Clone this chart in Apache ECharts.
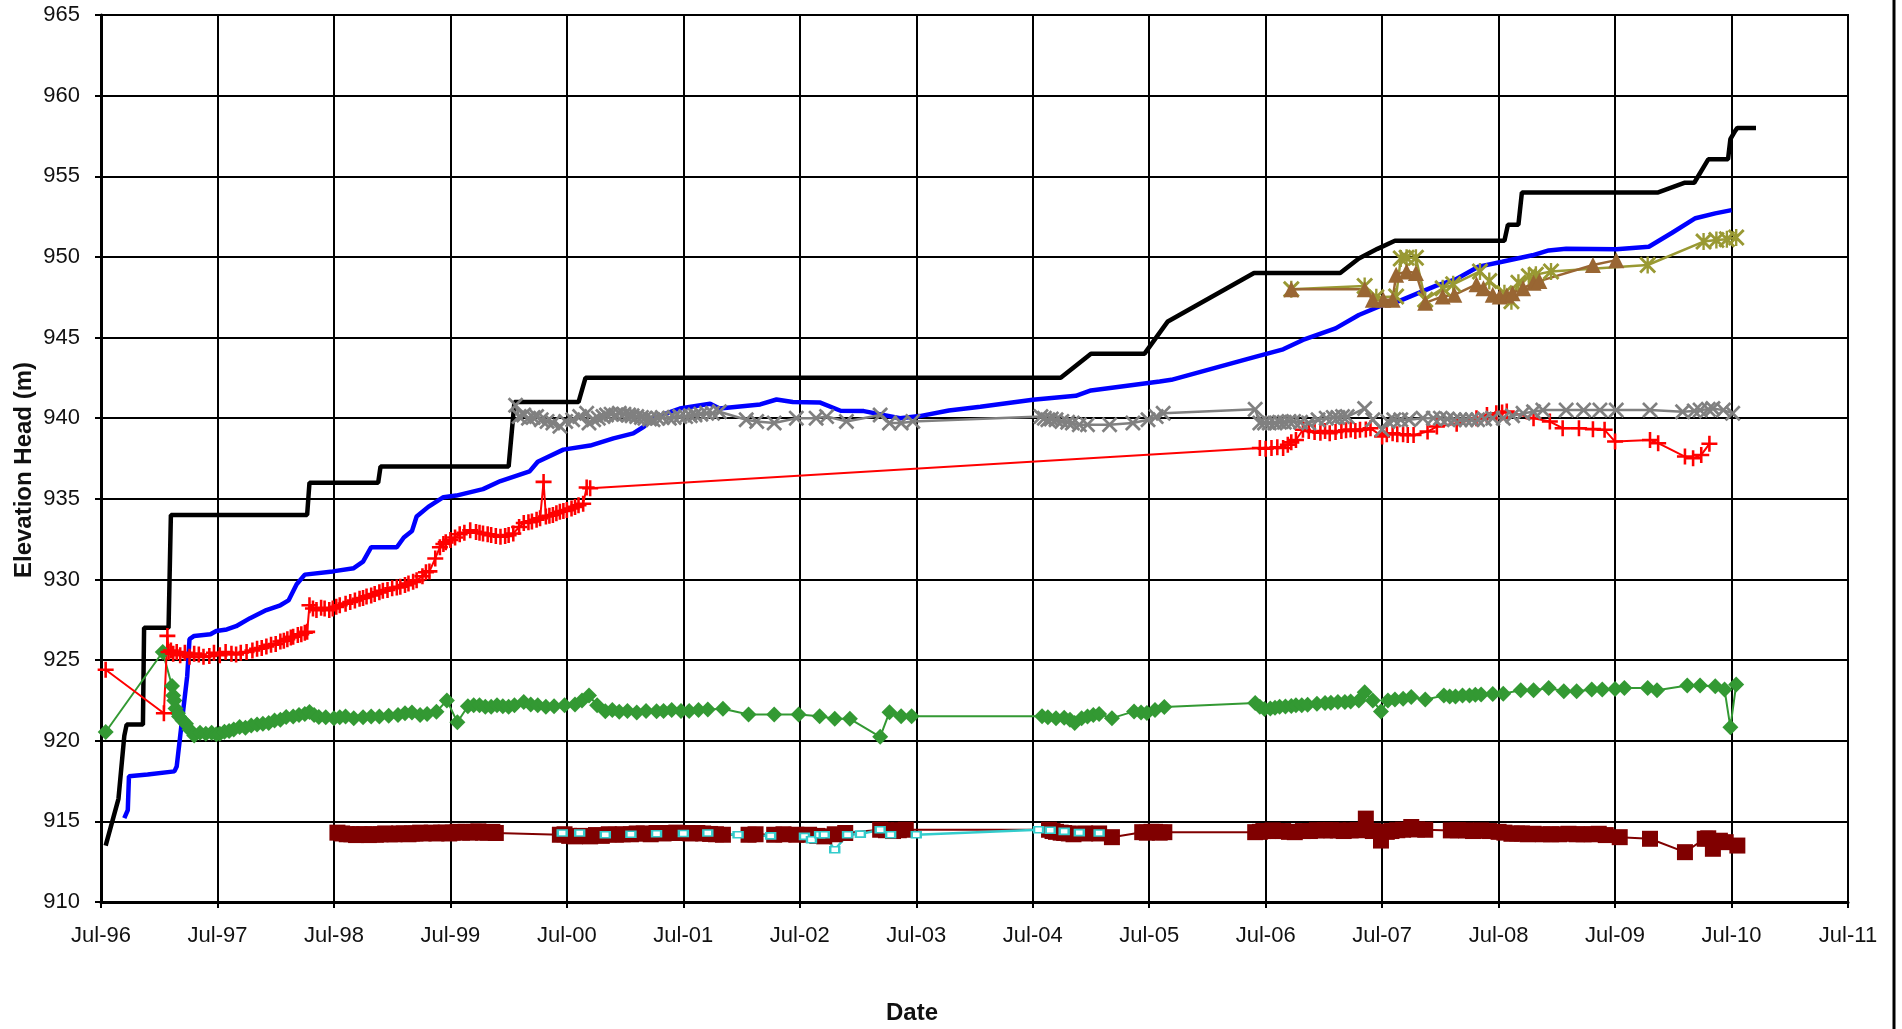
<!DOCTYPE html>
<html>
<head>
<meta charset="utf-8">
<title>Elevation Head</title>
<script src="https://cdn.jsdelivr.net/npm/echarts@6/dist/echarts.min.js"></script>
<style>
    html, body { margin: 0; padding: 0; background: #fff; }
    #headChart { width: 1902px; height: 1029px; }
</style>
</head>
<body>
<div id="headChart"></div>
<script>
// x axis tick labels (one per July, 1996 .. 2011)
var yearLabels = ['Jul-96', 'Jul-97', 'Jul-98', 'Jul-99', 'Jul-00', 'Jul-01', 'Jul-02', 'Jul-03',
    'Jul-04', 'Jul-05', 'Jul-06', 'Jul-07', 'Jul-08', 'Jul-09', 'Jul-10', 'Jul-11'];
var startYear = 1996.5;

// readings: [decimal year, elevation head (m)]
var blackHead = [[1996.54, 913.5], [1996.65, 916.4], [1996.70, 920.3], [1996.72, 921.0], [1996.86, 921.0], [1996.87, 927.0],
    [1997.08, 927.0], [1997.10, 934.0], [1998.27, 934.0], [1998.29, 936.0], [1998.88, 936.0], [1998.90, 937.0],
    [2000.0, 937.0], [2000.05, 941.0], [2000.60, 941.0], [2000.66, 942.5], [2004.74, 942.5], [2005.0, 944.0],
    [2005.46, 944.0], [2005.66, 946.0], [2006.40, 949.0], [2007.14, 949.0], [2007.30, 949.9], [2007.46, 950.5],
    [2007.61, 951.0], [2008.55, 951.0], [2008.58, 952.0], [2008.67, 952.0], [2008.70, 954.0], [2009.87, 954.0],
    [2010.10, 954.6], [2010.18, 954.6], [2010.30, 956.05], [2010.47, 956.05], [2010.49, 957.3], [2010.53, 957.8],
    [2010.55, 958.0], [2010.71, 958.0]];

var blueHead = [[1996.70, 915.2], [1996.73, 915.7], [1996.74, 917.8], [1996.90, 917.9], [1997.13, 918.1], [1997.15, 918.4],
    [1997.18, 920.3], [1997.24, 924.0], [1997.26, 926.3], [1997.30, 926.5], [1997.44, 926.6], [1997.49, 926.8],
    [1997.58, 926.9], [1997.66, 927.1], [1997.78, 927.6], [1997.92, 928.1], [1998.04, 928.4], [1998.11, 928.7],
    [1998.18, 929.7], [1998.25, 930.3], [1998.49, 930.5], [1998.67, 930.7], [1998.75, 931.1], [1998.82, 932.0],
    [1999.04, 932.0], [1999.10, 932.6], [1999.17, 933.0], [1999.21, 933.9], [1999.31, 934.5], [1999.44, 935.1],
    [1999.55, 935.2], [1999.78, 935.6], [1999.93, 936.1], [2000.18, 936.7], [2000.25, 937.3], [2000.47, 938.05],
    [2000.70, 938.3], [2000.90, 938.75], [2001.07, 939.06], [2001.16, 939.47], [2001.24, 940.0], [2001.47, 940.6],
    [2001.73, 940.9], [2001.81, 940.6], [2002.16, 940.85], [2002.30, 941.16], [2002.44, 941.0], [2002.67, 940.98],
    [2002.85, 940.46], [2003.05, 940.44], [2003.36, 940.0], [2003.53, 940.13], [2003.78, 940.48], [2004.05, 940.71],
    [2004.5, 941.14], [2004.87, 941.39], [2005.0, 941.72], [2005.59, 942.28], [2005.69, 942.38], [2006.41, 943.8],
    [2006.65, 944.27], [2006.82, 944.85], [2007.10, 945.57], [2007.30, 946.4], [2007.50, 947.0], [2007.66, 947.3],
    [2007.96, 948.2], [2008.13, 948.6], [2008.33, 949.4], [2008.53, 949.7], [2008.79, 950.1], [2008.93, 950.4],
    [2009.08, 950.5], [2009.51, 950.47], [2009.79, 950.63], [2009.99, 951.5], [2010.19, 952.4], [2010.36, 952.7],
    [2010.50, 952.9]];

var redHead = [[1996.54, 924.4], [1997.04, 921.7], [1997.07, 926.5], [1997.08, 925.5], [1997.10, 925.6], [1997.12, 925.4],
    [1997.15, 925.5], [1997.18, 925.3], [1997.22, 925.45], [1997.26, 925.2], [1997.30, 925.4], [1997.34, 925.35],
    [1997.38, 925.2], [1997.43, 925.25], [1997.47, 925.45], [1997.52, 925.3], [1997.57, 925.5], [1997.62, 925.4],
    [1997.66, 925.35], [1997.70, 925.45], [1997.75, 925.5], [1997.80, 925.6], [1997.84, 925.7], [1997.88, 925.75],
    [1997.92, 925.85], [1997.96, 925.95], [1998.0, 926.0], [1998.04, 926.15], [1998.07, 926.2], [1998.10, 926.3],
    [1998.13, 926.4], [1998.15, 926.45], [1998.19, 926.55], [1998.22, 926.6], [1998.25, 926.7], [1998.27, 926.75],
    [1998.29, 928.4], [1998.32, 928.2], [1998.35, 928.1], [1998.39, 928.25], [1998.42, 928.2], [1998.46, 928.1],
    [1998.49, 928.2], [1998.52, 928.3], [1998.55, 928.4], [1998.60, 928.5], [1998.64, 928.6], [1998.68, 928.7],
    [1998.72, 928.8], [1998.75, 928.85], [1998.78, 928.95], [1998.82, 929.0], [1998.85, 929.1], [1998.89, 929.2],
    [1998.92, 929.3], [1998.96, 929.35], [1999.0, 929.45], [1999.04, 929.5], [1999.07, 929.55], [1999.11, 929.65],
    [1999.14, 929.75], [1999.18, 929.85], [1999.21, 929.95], [1999.26, 930.2], [1999.29, 930.45], [1999.32, 930.5],
    [1999.37, 931.3], [1999.41, 932.0], [1999.44, 932.2], [1999.46, 932.3], [1999.50, 932.45], [1999.54, 932.6],
    [1999.58, 932.8], [1999.62, 932.9], [1999.67, 933.05], [1999.72, 932.95], [1999.75, 932.9], [1999.78, 932.85],
    [1999.82, 932.8], [1999.85, 932.75], [1999.89, 932.7], [1999.93, 932.65], [1999.97, 932.7], [2000.0, 932.75],
    [2000.04, 932.85], [2000.09, 933.25], [2000.13, 933.5], [2000.17, 933.55], [2000.20, 933.6], [2000.24, 933.7],
    [2000.27, 933.8], [2000.30, 936.05], [2000.32, 933.9], [2000.35, 933.95], [2000.38, 934.0], [2000.41, 934.1],
    [2000.44, 934.2], [2000.47, 934.25], [2000.50, 934.3], [2000.54, 934.4], [2000.57, 934.5], [2000.60, 934.6],
    [2000.64, 934.7], [2000.67, 935.7], [2000.70, 935.65], [2006.45, 938.15], [2006.50, 938.1], [2006.55, 938.15],
    [2006.60, 938.2], [2006.65, 938.15], [2006.69, 938.35], [2006.72, 938.5], [2006.76, 938.65], [2006.82, 939.28],
    [2006.87, 939.2], [2006.92, 939.15], [2006.97, 939.1], [2007.01, 939.2], [2007.05, 939.07], [2007.10, 939.15],
    [2007.15, 939.2], [2007.19, 939.25], [2007.23, 939.3], [2007.27, 939.2], [2007.31, 939.28], [2007.36, 939.3],
    [2007.40, 939.38], [2007.50, 938.86], [2007.54, 939.0], [2007.59, 939.07], [2007.63, 939.0], [2007.68, 939.0],
    [2007.72, 938.95], [2007.77, 938.96], [2007.89, 939.17], [2007.97, 939.48], [2008.14, 939.65], [2008.31, 940.0],
    [2008.40, 940.2], [2008.48, 940.31], [2008.53, 940.35], [2008.57, 940.41], [2008.80, 940.0], [2008.94, 939.79],
    [2009.05, 939.38], [2009.19, 939.38], [2009.31, 939.32], [2009.41, 939.28], [2009.50, 938.55], [2009.80, 938.65],
    [2009.87, 938.45], [2010.10, 937.62], [2010.17, 937.52], [2010.24, 937.72], [2010.31, 938.41]];

var greenHead = [[1996.54, 920.54], [1997.03, 925.5], [1997.11, 923.4], [1997.12, 922.8], [1997.13, 922.5], [1997.14, 922.0],
    [1997.16, 921.7], [1997.17, 921.5], [1997.20, 921.25], [1997.23, 921.06], [1997.26, 920.7], [1997.30, 920.33],
    [1997.35, 920.5], [1997.40, 920.44], [1997.45, 920.5], [1997.49, 920.4], [1997.52, 920.44], [1997.56, 920.55],
    [1997.60, 920.6], [1997.64, 920.7], [1997.69, 920.85], [1997.74, 920.8], [1997.79, 920.95], [1997.84, 921.0],
    [1997.89, 921.06], [1997.94, 921.1], [1997.99, 921.25], [1998.04, 921.3], [1998.09, 921.47], [1998.15, 921.5],
    [1998.20, 921.6], [1998.25, 921.65], [1998.29, 921.78], [1998.33, 921.6], [1998.37, 921.47], [1998.43, 921.45],
    [1998.5, 921.4], [1998.55, 921.45], [1998.60, 921.5], [1998.67, 921.4], [1998.75, 921.45], [1998.82, 921.5],
    [1998.89, 921.5], [1998.97, 921.55], [1999.05, 921.6], [1999.11, 921.7], [1999.17, 921.75], [1999.24, 921.6],
    [1999.30, 921.65], [1999.38, 921.8], [1999.47, 922.5], [1999.56, 921.15], [1999.65, 922.14], [1999.70, 922.2],
    [1999.75, 922.2], [1999.80, 922.1], [1999.85, 922.1], [1999.90, 922.2], [1999.95, 922.14], [2000.0, 922.1],
    [2000.05, 922.2], [2000.13, 922.4], [2000.19, 922.25], [2000.25, 922.2], [2000.32, 922.1], [2000.39, 922.14],
    [2000.48, 922.2], [2000.57, 922.25], [2000.63, 922.5], [2000.69, 922.8], [2000.76, 922.2], [2000.83, 921.83],
    [2000.89, 921.9], [2000.95, 921.8], [2001.02, 921.85], [2001.10, 921.75], [2001.18, 921.85], [2001.27, 921.83],
    [2001.33, 921.85], [2001.40, 921.9], [2001.48, 921.85], [2001.55, 921.85], [2001.63, 921.9], [2001.71, 921.94],
    [2001.84, 921.98], [2002.06, 921.63], [2002.28, 921.63], [2002.49, 921.63], [2002.67, 921.52], [2002.80, 921.36],
    [2002.93, 921.36], [2003.19, 920.24], [2003.27, 921.77], [2003.37, 921.52], [2003.46, 921.52], [2004.58, 921.52],
    [2004.63, 921.45], [2004.70, 921.4], [2004.77, 921.42], [2004.82, 921.3], [2004.86, 921.1], [2004.92, 921.4],
    [2004.97, 921.5], [2005.02, 921.6], [2005.07, 921.65], [2005.18, 921.4], [2005.37, 921.82], [2005.43, 921.75],
    [2005.48, 921.72], [2005.55, 921.9], [2005.63, 922.09], [2006.41, 922.34], [2006.45, 922.1], [2006.49, 921.96],
    [2006.54, 922.0], [2006.58, 922.05], [2006.62, 922.1], [2006.67, 922.13], [2006.72, 922.15], [2006.76, 922.2],
    [2006.81, 922.2], [2006.86, 922.23], [2006.94, 922.3], [2007.01, 922.34], [2007.06, 922.35], [2007.12, 922.4],
    [2007.18, 922.4], [2007.23, 922.44], [2007.30, 922.5], [2007.35, 923.0], [2007.42, 922.5], [2007.49, 921.82],
    [2007.55, 922.5], [2007.61, 922.55], [2007.68, 922.6], [2007.75, 922.71], [2007.87, 922.55], [2008.03, 922.8],
    [2008.08, 922.75], [2008.13, 922.75], [2008.19, 922.8], [2008.25, 922.8], [2008.30, 922.85], [2008.35, 922.86],
    [2008.45, 922.9], [2008.54, 922.92], [2008.69, 923.13], [2008.80, 923.13], [2008.93, 923.27], [2009.06, 923.07],
    [2009.17, 923.07], [2009.30, 923.17], [2009.39, 923.17], [2009.50, 923.21], [2009.58, 923.27], [2009.78, 923.27],
    [2009.86, 923.13], [2010.12, 923.42], [2010.23, 923.42], [2010.36, 923.38], [2010.44, 923.17], [2010.49, 920.84],
    [2010.54, 923.48]];

var grayHead = [[2000.06, 940.8], [2000.09, 940.1], [2000.13, 940.2], [2000.17, 940.0], [2000.21, 940.05], [2000.24, 940.1],
    [2000.28, 939.9], [2000.33, 939.8], [2000.38, 939.7], [2000.44, 939.5], [2000.49, 939.8], [2000.55, 939.9],
    [2000.61, 940.1], [2000.67, 940.3], [2000.69, 939.7], [2000.73, 939.9], [2000.77, 940.0], [2000.81, 940.1],
    [2000.84, 940.2], [2000.88, 940.25], [2000.92, 940.2], [2000.95, 940.3], [2000.99, 940.25], [2001.03, 940.2],
    [2001.06, 940.15], [2001.10, 940.1], [2001.14, 940.05], [2001.17, 940.0], [2001.21, 939.95], [2001.24, 939.9],
    [2001.28, 940.0], [2001.32, 940.05], [2001.38, 940.0], [2001.42, 940.05], [2001.47, 940.1], [2001.52, 940.1],
    [2001.56, 940.15], [2001.60, 940.2], [2001.65, 940.25], [2001.70, 940.3], [2001.75, 940.3], [2001.81, 940.4],
    [2002.04, 939.9], [2002.13, 939.8], [2002.28, 939.7], [2002.47, 940.0], [2002.64, 940.0], [2002.73, 940.1],
    [2002.90, 939.8], [2003.19, 940.2], [2003.27, 939.7], [2003.37, 939.7], [2003.47, 939.8], [2004.57, 940.1],
    [2004.60, 940.0], [2004.63, 939.9], [2004.66, 939.95], [2004.70, 939.9], [2004.75, 939.8], [2004.80, 939.75],
    [2004.84, 939.7], [2004.90, 939.6], [2004.97, 939.6], [2005.16, 939.6], [2005.36, 939.7], [2005.49, 939.9],
    [2005.56, 940.1], [2005.62, 940.3], [2006.41, 940.55], [2006.45, 939.7], [2006.49, 939.7], [2006.53, 939.7],
    [2006.58, 939.7], [2006.62, 939.75], [2006.66, 939.75], [2006.70, 939.8], [2006.74, 939.8], [2006.80, 939.75],
    [2006.87, 939.7], [2006.95, 939.9], [2007.02, 940.0], [2007.08, 940.05], [2007.12, 940.05], [2007.16, 940.1],
    [2007.20, 940.1], [2007.35, 940.6], [2007.42, 939.9], [2007.50, 939.3], [2007.55, 939.8], [2007.60, 939.9],
    [2007.66, 939.9], [2007.73, 939.9], [2007.85, 940.0], [2007.94, 940.0], [2008.0, 940.0], [2008.06, 939.95],
    [2008.12, 939.9], [2008.17, 939.9], [2008.22, 939.9], [2008.27, 939.9], [2008.32, 939.9], [2008.38, 939.95],
    [2008.45, 940.0], [2008.54, 940.0], [2008.62, 940.15], [2008.71, 940.3], [2008.80, 940.4], [2008.88, 940.5],
    [2009.08, 940.5], [2009.23, 940.5], [2009.37, 940.5], [2009.51, 940.5], [2009.80, 940.5], [2010.08, 940.4],
    [2010.18, 940.45], [2010.23, 940.5], [2010.30, 940.55], [2010.34, 940.6], [2010.43, 940.5], [2010.51, 940.3]];

var maroonHead = [[1998.53, 914.3], [1998.57, 914.25], [1998.61, 914.2], [1998.65, 914.2], [1998.69, 914.15], [1998.72, 914.2],
    [1998.76, 914.2], [1998.80, 914.15], [1998.83, 914.2], [1998.86, 914.17], [1998.90, 914.2], [1998.94, 914.25],
    [1998.98, 914.2], [1999.02, 914.2], [1999.06, 914.25], [1999.10, 914.25], [1999.14, 914.2], [1999.17, 914.25],
    [1999.20, 914.25], [1999.24, 914.3], [1999.27, 914.25], [1999.30, 914.28], [1999.34, 914.3], [1999.38, 914.25],
    [1999.42, 914.3], [1999.46, 914.3], [1999.49, 914.25], [1999.52, 914.3], [1999.56, 914.35], [1999.60, 914.3],
    [1999.63, 914.35], [1999.67, 914.3], [1999.70, 914.35], [1999.74, 914.38], [1999.78, 914.3], [1999.82, 914.3],
    [1999.86, 914.35], [1999.89, 914.28], [2000.44, 914.17], [2000.48, 914.2], [2000.52, 914.1], [2000.57, 914.07],
    [2000.63, 914.1], [2000.70, 914.07], [2000.75, 914.15], [2000.80, 914.1], [2000.86, 914.2], [2000.92, 914.17],
    [2000.98, 914.2], [2001.05, 914.2], [2001.10, 914.25], [2001.16, 914.25], [2001.22, 914.2], [2001.27, 914.28],
    [2001.33, 914.25], [2001.38, 914.28], [2001.44, 914.3], [2001.50, 914.28], [2001.56, 914.25], [2001.62, 914.28],
    [2001.67, 914.25], [2001.73, 914.22], [2001.78, 914.2], [2001.84, 914.17], [2002.06, 914.17], [2002.12, 914.2],
    [2002.28, 914.17], [2002.36, 914.2], [2002.47, 914.17], [2002.58, 914.17], [2002.65, 914.1], [2002.71, 914.07],
    [2002.80, 914.2], [2002.89, 914.28], [2003.19, 914.48], [2003.24, 914.45], [2003.30, 914.4], [2003.35, 914.45],
    [2003.41, 914.48], [2004.64, 914.48], [2004.67, 914.4], [2004.70, 914.35], [2004.74, 914.3], [2004.77, 914.28],
    [2004.81, 914.25], [2004.85, 914.2], [2004.95, 914.25], [2005.07, 914.25], [2005.18, 914.02], [2005.44, 914.33],
    [2005.48, 914.3], [2005.52, 914.35], [2005.55, 914.35], [2005.59, 914.3], [2005.63, 914.33], [2006.41, 914.33],
    [2006.45, 914.35], [2006.48, 914.4], [2006.52, 914.4], [2006.56, 914.44], [2006.60, 914.4], [2006.65, 914.4],
    [2006.70, 914.35], [2006.75, 914.33], [2006.82, 914.4], [2006.88, 914.4], [2006.94, 914.45], [2007.01, 914.44],
    [2007.06, 914.45], [2007.12, 914.44], [2007.17, 914.4], [2007.23, 914.44], [2007.29, 914.45], [2007.36, 915.17],
    [2007.42, 914.4], [2007.49, 913.81], [2007.54, 914.35], [2007.58, 914.4], [2007.63, 914.45], [2007.68, 914.48],
    [2007.75, 914.65], [2007.80, 914.5], [2007.87, 914.48], [2008.09, 914.44], [2008.15, 914.45], [2008.22, 914.44],
    [2008.28, 914.4], [2008.35, 914.44], [2008.42, 914.4], [2008.50, 914.35], [2008.55, 914.3], [2008.61, 914.23],
    [2008.66, 914.25], [2008.70, 914.25], [2008.75, 914.2], [2008.80, 914.23], [2008.88, 914.2], [2008.95, 914.2],
    [2009.02, 914.2], [2009.10, 914.23], [2009.17, 914.2], [2009.23, 914.2], [2009.30, 914.2], [2009.36, 914.23],
    [2009.42, 914.15], [2009.54, 914.02], [2009.80, 913.92], [2010.10, 913.09], [2010.27, 913.92], [2010.30, 913.95],
    [2010.34, 913.3], [2010.40, 913.8], [2010.45, 913.71], [2010.55, 913.5]];

var cyanHead = [[2000.46, 914.28], [2000.61, 914.28], [2000.83, 914.17], [2001.05, 914.2], [2001.27, 914.23], [2001.50, 914.25],
    [2001.71, 914.28], [2001.97, 914.17], [2002.25, 914.1], [2002.54, 914.07], [2002.60, 913.86], [2002.67, 914.17],
    [2002.71, 914.17], [2002.80, 913.24], [2002.91, 914.17], [2003.02, 914.21], [2003.19, 914.48], [2003.28, 914.17],
    [2003.50, 914.17], [2004.55, 914.48], [2004.65, 914.45], [2004.77, 914.38], [2004.90, 914.3], [2005.07, 914.28]];

var brownHead = [[2006.72, 948.0], [2007.35, 948.0], [2007.42, 947.35], [2007.51, 947.35], [2007.59, 947.35], [2007.62, 948.9],
    [2007.71, 949.1], [2007.79, 949.0], [2007.87, 947.15], [2008.02, 947.55], [2008.12, 947.65], [2008.31, 948.3],
    [2008.37, 948.05], [2008.45, 947.65], [2008.51, 947.55], [2008.57, 947.6], [2008.62, 947.75], [2008.71, 948.05],
    [2008.80, 948.4], [2008.85, 948.5], [2009.31, 949.5], [2009.51, 949.8]];

var oliveHead = [[2006.72, 948.0], [2007.35, 948.2], [2007.45, 947.5], [2007.62, 947.55], [2007.66, 949.9], [2007.71, 949.95],
    [2007.79, 949.95], [2007.87, 947.35], [2008.02, 948.05], [2008.11, 948.3], [2008.34, 949.1], [2008.42, 948.5],
    [2008.55, 947.75], [2008.61, 947.25], [2008.67, 948.4], [2008.76, 948.8], [2008.82, 948.9], [2008.95, 949.1],
    [2009.78, 949.5], [2010.26, 950.95], [2010.37, 951.05], [2010.46, 951.1], [2010.54, 951.2]];

// marker shapes
var plusMark = 'path://M4.2,0H5.8V4.2H10V5.8H5.8V10H4.2V5.8H0V4.2H4.2Z';
var crossMark = 'path://M0,1.2L1.2,0L5,3.8L8.8,0L10,1.2L6.2,5L10,8.8L8.8,10L5,6.2L1.2,10L0,8.8L3.8,5Z';
var starMark = crossMark + 'M4.3,0H5.7V10H4.3Z';

function toAxis(rows) {
    return rows.map(function (r) { return [r[0] - startYear, r[1]]; });
}

function headSeries(name, rows, color, width, symbol, size) {
    return {
        name: name,
        type: 'line',
        data: toAxis(rows),
        symbol: symbol,
        symbolSize: size,
        showSymbol: symbol !== 'none',
        lineStyle: { color: color, width: width },
        itemStyle: { color: color, borderWidth: 0 },
        emphasis: { disabled: true },
        animation: false
    };
}

var labelFont = { fontFamily: 'Liberation Sans, Arial, sans-serif', fontSize: 22, color: '#111' };

var option = {
    backgroundColor: '#fff',
    grid: { left: 101, right: 54, top: 15, bottom: 127, show: true, borderColor: '#000', borderWidth: 2 },
    xAxis: {
        type: 'value', min: 0, max: 15, interval: 1,
        axisLine: { lineStyle: { color: '#000', width: 3 } },
        axisTick: { length: 6, lineStyle: { color: '#000', width: 2 } },
        splitLine: { show: true, lineStyle: { color: '#000', width: 2 } },
        axisLabel: Object.assign({ margin: 23, formatter: function (v) { return yearLabels[Math.round(v)]; } }, labelFont)
    },
    yAxis: {
        type: 'value', min: 910, max: 965, interval: 5,
        axisLine: { show: true, lineStyle: { color: '#000', width: 3 } },
        axisTick: { show: true, length: 6, lineStyle: { color: '#000', width: 2 } },
        splitLine: { show: true, lineStyle: { color: '#000', width: 2 } },
        axisLabel: Object.assign({ margin: 21 }, labelFont)
    },
    graphic: [
        { type: 'line', shape: { x1: 1894, y1: 0, x2: 1894, y2: 1029 }, style: { stroke: '#000', lineWidth: 3 } },
        { type: 'text', x: 912, y: 1013, style: { text: 'Date', font: 'bold 24px "Liberation Sans", Arial, sans-serif', fill: '#111', textAlign: 'center', textVerticalAlign: 'middle' } },
        { type: 'text', x: 24, y: 470, rotation: Math.PI / 2, style: { text: 'Elevation Head (m)', font: 'bold 24px "Liberation Sans", Arial, sans-serif', fill: '#111', textAlign: 'center', textVerticalAlign: 'middle' } }
    ],
    series: [
        headSeries('black', blackHead, '#000000', 4.5, 'none', 0),
        headSeries('blue', blueHead, '#0000ff', 4.5, 'none', 0),
        headSeries('maroon', maroonHead, '#800000', 2, 'rect', 16),
        headSeries('cyan', cyanHead, '#33cccc', 2.5, 'emptyRect', [9, 6]),
        headSeries('green', greenHead, '#339933', 2, 'diamond', 16),
        headSeries('red', redHead, '#ff0000', 2, plusMark, 16),
        headSeries('gray', grayHead, '#808080', 2.5, crossMark, 16),
        headSeries('olive', oliveHead, '#999933', 2.5, starMark, 17),
        headSeries('brown', brownHead, '#996633', 2.5, 'triangle', 16)
    ]
};

var myChart = echarts.init(document.getElementById('headChart'));
myChart.setOption(option);
</script>
</body>
</html>
